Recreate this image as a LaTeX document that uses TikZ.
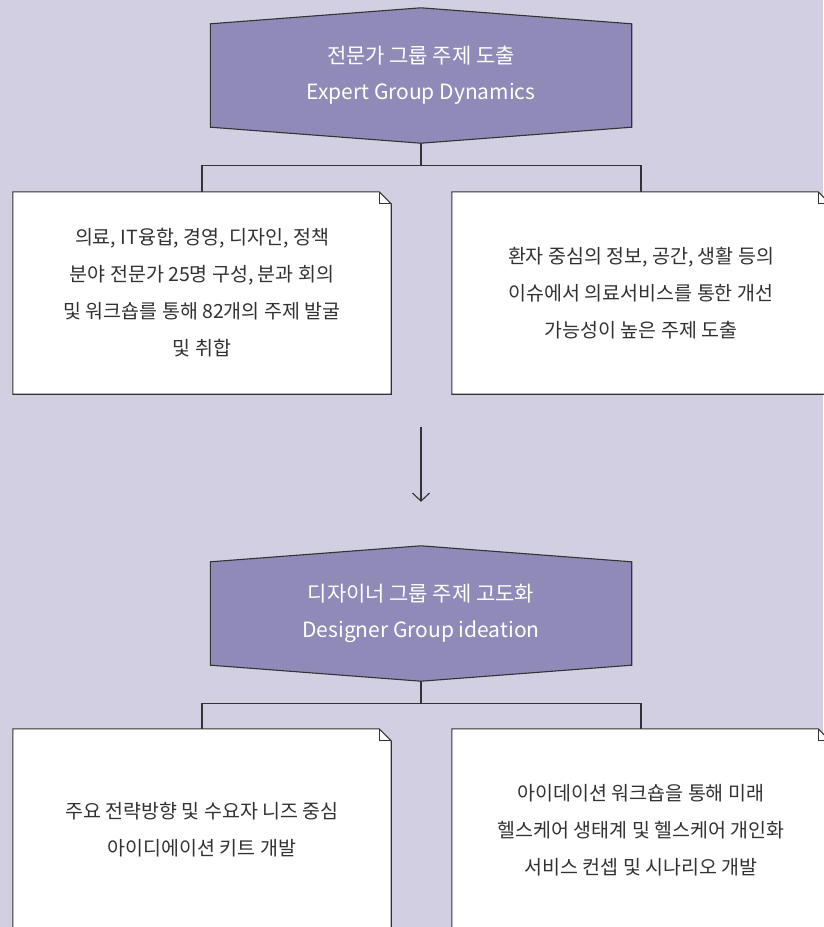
\documentclass[tikz,border=0pt]{standalone}
\usepackage{fontspec}
\setmainfont{Noto Sans CJK KR}
\usetikzlibrary{arrows.meta,calc,backgrounds}
\definecolor{sfondo}{RGB}{210,207,227}
\definecolor{viola}{RGB}{143,138,183}
\definecolor{linea}{RGB}{51,51,51}
\definecolor{testo}{RGB}{50,50,50}
\tikzset{
  titolo/.style={minimum width=421pt, minimum height=135pt, inner sep=0pt,
    text=white, align=center, font=\fontsize{21}{36}\selectfont},
  scheda/.style={minimum width=378pt, minimum height=202pt, inner sep=0pt,
    text=testo, align=center, font=\fontsize{19.5}{37}\selectfont},
  link/.style={draw=linea, line width=1.1pt},
}
\newcommand{\esagono}[1]{%
  \filldraw[fill=viola, draw=linea, line width=1.1pt] (#1.north)
    -- ($(#1.north east)+(0,-16)$) -- ($(#1.south east)+(0,16)$)
    -- (#1.south) -- ($(#1.south west)+(0,16)$) -- ($(#1.north west)+(0,-16)$) -- cycle;}
\newcommand{\foglio}[1]{%
  \filldraw[fill=white, draw=linea, line width=1.1pt] (#1.north west)
    -- ($(#1.north east)+(-12,0)$) -- ($(#1.north east)+(0,-12)$)
    -- (#1.south east) -- (#1.south west) -- cycle;
  \draw[linea, line width=0.8pt] ($(#1.north east)+(-12,0)$) -- ++(0,-12) -- ++(12,0);}
\begin{document}
\begin{tikzpicture}[x=1pt, y=1pt]
        \useasboundingbox (0,0) rectangle (823,-927);

         % Nodi
        \node[titolo] (expert) at (421,-75.5) {전문가 그룹 주제 도출\\Expert Group Dynamics};
        \node[scheda] (boxA) at (202,-293) {의료, IT융합, 경영, 디자인, 정책\\분야 전문가 25명 구성, 분과 회의\\및 워크숍를 통해 82개의 주제 발굴\\및 취합};
        \node[scheda] (boxB) at (641,-293) {환자 중심의 정보, 공간, 생활 등의\\이슈에서 의료서비스를 통한 개선\\가능성이 높은 주제 도출};
        \node[titolo] (designer) at (421,-613.5) {디자이너 그룹 주제 고도화\\Designer Group ideation};
        \node[scheda] (boxC) at (202,-830) {주요 전략방향 및 수요자 니즈 중심\\아이디에이션 키트 개발};
        \node[scheda] (boxD) at (641,-830) {아이데이션 워크숍을 통해 미래\\헬스케어 생태계 및 헬스케어 개인화\\서비스 컨셉 및 시나리오 개발};

         % Sagome sullo sfondo
        \begin{scope}[on background layer]
          \fill[sfondo] (0,0) rectangle (823,-927);
          \esagono{expert} \esagono{designer}
          \foglio{boxA} \foglio{boxB} \foglio{boxC} \foglio{boxD}
        \end{scope}

         % Collegamenti
        \draw[link] (expert.south) -- ++(0,-22) coordinate (bivioA);
        \draw[link] (boxA.north) |- (bivioA) -| (boxB.north);
        \draw[link] (designer.south) -- ++(0,-22) coordinate (bivioB);
        \draw[link] (boxC.north) |- (bivioB) -| (boxD.north);
        \draw[link, -{Straight Barb[length=8pt, width=17pt]}, shorten <=33pt, shorten >=44pt]
          (expert.south |- boxA.south) -- (designer.north);
    \end{tikzpicture}
\end{document}
